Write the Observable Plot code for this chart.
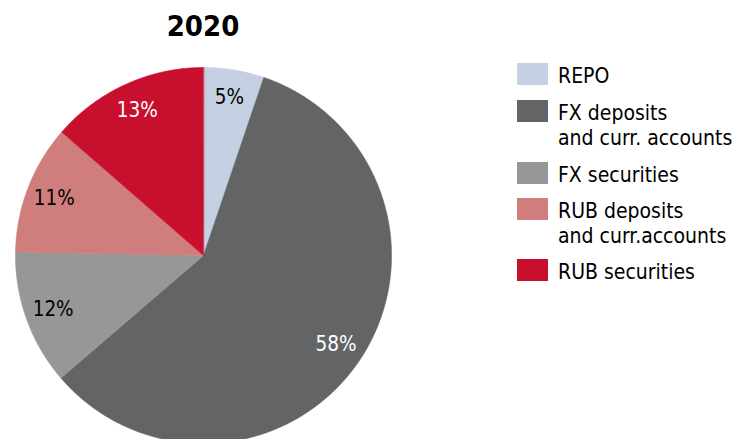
<!DOCTYPE html>
<html><head><meta charset="utf-8">
<script src="https://cdn.jsdelivr.net/npm/d3@7"></script>
<script src="https://cdn.jsdelivr.net/npm/@observablehq/plot@0.6"></script>
<style>
body{margin:0;background:#fff;}
#wrap{position:relative;width:735px;height:439px;overflow:hidden;font-family:"DejaVu Sans Condensed","DejaVu Sans",sans-serif;font-stretch:condensed;}
#title{position:absolute;left:103px;width:200px;top:8px;text-align:center;font-weight:bold;font-size:29px;line-height:36px;}
#legend{position:absolute;left:517px;top:63px;font-size:21px;color:#000;}
.sw{position:absolute;left:0;top:0;width:31px;height:22px;}
.lt{position:absolute;left:41px;top:1px;white-space:nowrap;line-height:24.5px;}
</style></head>
<body><div id="wrap"><div id="title">2020</div><div id="chart"></div><div id="legend"></div></div>
<script>
const categories = ["REPO", "FX deposits\nand curr. accounts", "FX securities", "RUB deposits\nand curr.accounts", "RUB securities"];
const values = [5.2, 58.5, 11.6, 11.1, 13.6];
const labels = ["5%", "58%", "12%", "11%", "13%"];
const colors = ["#c5d0e2", "#636466", "#979797", "#d07d7e", "#c8102e"];
const labelColors = ["#000", "#fff", "#000", "#000", "#fff"];

const total = d3.sum(values);
let acc = 0;
const slices = values.map((v, i) => {
  const a0 = acc / total * 2 * Math.PI;
  acc += v;
  const a1 = acc / total * 2 * Math.PI;
  const pts = [{x: 0, y: 0}];
  const n = Math.max(2, Math.ceil((a1 - a0) / 0.01));
  for (let k = 0; k <= n; k++) {
    const a = a0 + (a1 - a0) * k / n;
    pts.push({x: Math.sin(a), y: Math.cos(a)});
  }
  const am = (a0 + a1) / 2;
  return {i, pts, lx: 0.85 * Math.sin(am), ly: 0.85 * Math.cos(am)};
});

const plot = Plot.plot({
  width: 735, height: 439, margin: 0,
  x: {domain: [-1, 1], range: [15, 391], axis: null},
  y: {domain: [-1, 1], range: [443, 67], axis: null},
  style: {overflow: "hidden", background: "transparent"},
  marks: [
    ...slices.map(s => Plot.line(s.pts, {x: "x", y: "y", curve: "linear-closed", fill: colors[s.i], stroke: colors[s.i], strokeWidth: 0.6})),
    Plot.text(slices, {x: "lx", y: "ly", text: d => labels[d.i], fill: d => labelColors[d.i], fontSize: 20.5, fontFamily: "DejaVu Sans Condensed, DejaVu Sans, sans-serif"})
  ]
});
plot.style.position = "absolute";
plot.style.left = "0"; plot.style.top = "0";
document.getElementById("chart").appendChild(plot);

const rowTops = [0, 37, 99, 135, 196];
const leg = document.getElementById("legend");
categories.forEach((c, i) => {
  const r = document.createElement("div");
  r.style.position = "absolute"; r.style.top = rowTops[i] + "px"; r.style.left = "0";
  r.innerHTML = `<div class="sw" style="background:${colors[i]}"></div><div class="lt">${c.split("\n").join("<br>")}</div>`;
  leg.appendChild(r);
});
</script>
</body></html>
